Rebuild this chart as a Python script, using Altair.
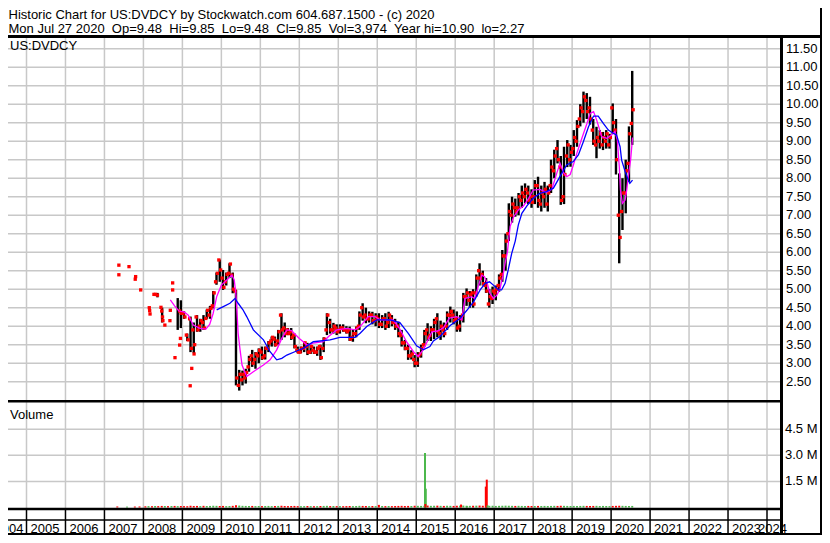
import altair as alt
import pandas as pd

# ---------------- texts ----------------
HEADER_LINE_1 = "Historic Chart for US:DVDCY by Stockwatch.com 604.687.1500 - (c) 2020"
HEADER_LINE_2 = ("Mon Jul 27 2020 \u00a0Op=9.48 \u00a0Hi=9.85 \u00a0Lo=9.48 \u00a0Cl=9.85"
                 " \u00a0Vol=3,974 \u00a0Year hi=10.90 \u00a0lo=2.27")
SYMBOL_LABEL = "US:DVDCY"
VOLUME_LABEL = "Volume"

YEARS = list(range(2004, 2025))
PRICE_TICKS = [2.5, 3.0, 3.5, 4.0, 4.5, 5.0, 5.5, 6.0, 6.5, 7.0, 7.5, 8.0, 8.5, 9.0,
               9.5, 10.0, 10.5, 11.0, 11.5]
VOLUME_TICKS = [1.5, 3.0, 4.5]  # millions

# ---------------- monthly price ranges, Jan 2009 .. Jul 2020 ----------------
MONTHLY_START_YEAR = 2009
LOW = [
    4.20, 3.60, 3.30, 3.27, 3.85, 3.85, 3.90, 4.20, 4.20, 4.48, 5.12, 5.20,
    4.98, 5.10, 5.30, 4.89, 2.40, 2.26, 2.40, 2.45, 2.77, 2.90, 2.85, 3.00,
    3.09, 3.10, 3.30, 3.45, 3.45, 3.50, 3.63, 3.70, 3.76, 3.63, 3.40, 3.27,
    3.27, 3.30, 3.22, 3.25, 3.25, 3.20, 3.09, 3.30, 3.76, 3.80, 3.80, 3.76,
    3.80, 3.85, 3.80, 3.60, 3.58, 3.70, 3.90, 4.15, 4.08, 4.10, 4.05, 4.00,
    3.95, 3.95, 3.90, 3.95, 4.00, 3.90, 3.70, 3.45, 3.35, 3.09, 3.10, 2.89,
    2.90, 3.15, 3.45, 3.60, 3.60, 3.65, 3.70, 3.63, 3.70, 3.90, 4.10, 4.05,
    3.85, 3.85, 4.10, 4.55, 4.50, 4.50, 4.80, 5.10, 5.10, 4.90, 4.50, 4.60,
    4.70, 4.93, 5.20, 5.50, 6.30, 6.80, 6.96, 7.00, 7.20, 7.32, 7.30, 7.20,
    7.30, 7.20, 7.10, 7.20, 7.10, 7.60, 8.00, 8.40, 7.28, 7.30, 8.30, 8.31,
    8.60, 8.85, 9.40, 9.50, 9.60, 9.45, 8.90, 8.54, 8.80, 8.76, 8.80, 8.80,
    9.20, 8.10, 5.70, 6.60, 7.05, 7.90, 8.90,
]
HIGH = [
    4.40, 3.80, 4.26, 4.10, 4.30, 4.20, 4.30, 4.45, 4.55, 4.95, 5.45, 5.80,
    5.52, 5.45, 5.70, 5.45, 4.98, 2.82, 2.80, 2.85, 3.20, 3.36, 3.30, 3.40,
    3.45, 3.45, 3.60, 3.72, 3.72, 3.90, 4.35, 4.10, 3.95, 3.95, 3.80, 3.45,
    3.45, 3.58, 3.55, 3.50, 3.45, 3.45, 3.50, 3.70, 4.35, 4.20, 4.09, 4.05,
    4.05, 4.05, 4.00, 3.99, 3.90, 3.99, 4.40, 4.62, 4.50, 4.40, 4.39, 4.35,
    4.35, 4.30, 4.35, 4.39, 4.30, 4.20, 4.12, 3.90, 3.63, 3.50, 3.35, 3.22,
    3.30, 3.50, 3.90, 4.08, 4.00, 4.20, 4.35, 4.15, 4.10, 4.40, 4.53, 4.45,
    4.40, 4.30, 4.90, 5.02, 4.95, 5.00, 5.40, 5.70, 5.50, 5.30, 5.00, 5.07,
    5.10, 5.40, 6.06, 6.50, 7.32, 7.50, 7.45, 7.60, 7.80, 7.86, 7.80, 7.70,
    7.95, 8.04, 7.80, 7.90, 7.80, 8.50, 8.77, 9.03, 8.60, 8.85, 9.03, 8.90,
    9.30, 9.57, 10.00, 10.34, 10.30, 10.20, 9.60, 9.39, 9.30, 9.25, 9.30, 9.20,
    10.02, 9.60, 8.13, 8.00, 8.50, 9.40, 10.90,
]
OPEN = [
    4.35, 3.76, 4.20, 3.90, 4.25, 4.00, 4.10, 4.21, 4.30, 4.55, 5.20, 5.79,
    5.30, 5.20, 5.43, 5.38, 4.95, 2.40, 2.55, 2.60, 2.90, 3.20, 3.10, 3.20,
    3.30, 3.20, 3.40, 3.60, 3.65, 3.60, 4.30, 3.95, 3.90, 3.85, 3.76, 3.35,
    3.30, 3.40, 3.45, 3.30, 3.35, 3.30, 3.45, 3.40, 3.90, 4.10, 3.90, 3.95,
    3.90, 3.95, 3.90, 3.90, 3.70, 3.80, 4.00, 4.50, 4.30, 4.20, 4.30, 4.15,
    4.20, 4.05, 4.20, 4.10, 4.20, 4.10, 4.00, 3.75, 3.55, 3.40, 3.20, 3.10,
    3.00, 3.25, 3.50, 3.90, 3.75, 3.90, 4.20, 3.80, 3.90, 4.00, 4.30, 4.30,
    4.20, 4.00, 4.30, 4.80, 4.70, 4.90, 4.90, 5.50, 5.40, 5.10, 4.60, 4.75,
    4.90, 5.10, 5.40, 5.90, 6.50, 7.00, 7.20, 7.20, 7.40, 7.50, 7.60, 7.50,
    7.50, 7.80, 7.30, 7.50, 7.30, 7.80, 8.20, 8.80, 8.30, 7.50, 8.60, 8.50,
    8.80, 9.00, 9.60, 9.80, 10.10, 9.90, 9.30, 8.90, 9.00, 8.90, 9.00, 8.90,
    9.90, 9.30, 7.00, 7.10, 7.60, 8.40, 9.48,
]
CLOSE = [
    4.25, 3.63, 3.40, 3.50, 3.90, 4.15, 3.95, 4.43, 4.48, 4.90, 5.43, 5.52,
    5.05, 5.40, 5.68, 5.00, 2.60, 2.70, 2.70, 2.75, 3.10, 3.00, 3.25, 3.35,
    3.15, 3.40, 3.55, 3.70, 3.50, 3.85, 3.90, 3.80, 3.80, 3.70, 3.45, 3.30,
    3.40, 3.55, 3.30, 3.45, 3.30, 3.40, 3.15, 3.65, 4.30, 3.90, 4.00, 3.85,
    3.95, 3.90, 3.85, 3.65, 3.80, 3.95, 4.30, 4.25, 4.20, 4.30, 4.15, 4.25,
    4.05, 4.20, 4.00, 4.30, 4.10, 4.00, 3.80, 3.55, 3.40, 3.20, 3.25, 3.00,
    3.20, 3.40, 3.80, 3.70, 3.90, 4.10, 3.85, 4.00, 3.80, 4.30, 4.40, 4.15,
    3.95, 4.20, 4.80, 4.90, 4.85, 4.60, 5.30, 5.30, 5.15, 4.95, 4.80, 4.95,
    5.00, 5.30, 5.90, 6.30, 7.10, 7.30, 7.10, 7.50, 7.60, 7.70, 7.40, 7.35,
    7.80, 7.40, 7.60, 7.70, 7.60, 8.30, 8.60, 8.50, 7.40, 8.10, 8.90, 8.70,
    9.10, 9.40, 9.90, 10.20, 9.80, 9.60, 9.00, 9.10, 9.20, 9.10, 9.20, 9.10,
    9.50, 8.50, 6.40, 7.60, 8.20, 9.20, 9.85,
]
VOLUME_K = [
    80, 75, 100, 85, 90, 80, 95, 85, 90, 100, 95, 85,
    90, 80, 85, 95, 130, 110, 95, 90, 85, 90, 80, 85,
    80, 85, 90, 80, 85, 90, 100, 85, 80, 85, 90, 80,
    75, 80, 85, 80, 75, 80, 85, 90, 95, 80, 85, 80,
    80, 75, 80, 85, 80, 85, 95, 90, 85, 80, 85, 80,
    150, 85, 80, 85, 80, 85, 90, 95, 85, 90, 85, 100,
    95, 90, 100, 110, 95, 100, 105, 95, 90, 100, 95, 90,
    100, 105, 110, 100, 95, 100, 105, 110, 100, 105, 95, 100,
    90, 95, 100, 105, 100, 95, 90, 95, 90, 85, 90, 85,
    85, 90, 85, 90, 85, 90, 95, 90, 100, 95, 90, 85,
    90, 85, 90, 95, 90, 85, 90, 95, 85, 90, 85, 80,
    90, 95, 100, 95, 90, 85, 90,
]

# ---------------- sparse early trading (2007-2009) ----------------
EARLY_TRADE_T = [2007.37, 2007.63, 2007.37, 2007.80, 2007.79, 2007.93, 2008.15, 2008.16,
                 2008.17, 2008.27, 2008.31, 2008.36, 2008.45, 2008.47, 2008.49, 2008.50,
                 2008.55, 2008.69, 2008.68, 2008.75, 2008.75, 2008.81, 2008.93, 2008.97,
                 2008.95, 2008.93, 2009.20, 2009.24, 2009.30]
EARLY_TRADE_P = [5.65, 5.61, 5.39, 5.34, 5.27, 4.98, 4.50, 4.42,
                 4.33, 4.86, 4.86, 4.84, 4.51, 4.41, 4.25, 4.15,
                 4.03, 4.43, 4.15, 5.17, 4.98, 3.15, 4.41, 4.35,
                 3.67, 3.49, 2.39, 2.86, 3.25]
EARLY_BAR_T = [2008.36, 2008.48, 2008.88, 2008.96]
EARLY_BAR_LOW = [4.78, 4.10, 3.90, 3.95]
EARLY_BAR_HIGH = [4.90, 4.50, 4.76, 4.70]
EARLY_VOL_T = [2007.33, 2007.58, 2007.78, 2007.90, 2008.05, 2008.13, 2008.22, 2008.30,
               2008.38, 2008.47, 2008.55, 2008.63, 2008.72, 2008.80, 2008.88, 2008.96]
EARLY_VOL_K = [60, 50, 55, 60, 70, 80, 75, 85, 80, 90, 85, 80, 85, 90, 80, 85]
EARLY_VOL_DIR = ["down", "up", "down", "down", "down", "up", "down", "up",
                 "down", "down", "up", "down", "up", "down", "up", "down"]

# ---------------- high-volume days ----------------
SPIKE_T = [2015.225, 2015.245, 2015.235, 2016.15, 2016.30, 2016.785, 2016.81, 2016.83]
SPIKE_M = [3.13, 1.08, 0.20, 0.17, 0.08, 1.20, 1.60, 0.12]
SPIKE_DIR = ["up", "up", "down", "down", "up", "down", "down", "up"]

# ---------------- moving averages ----------------
MA_SHORT_T = [2008.69, 2008.80, 2008.91, 2009.05, 2009.15, 2009.28, 2009.45, 2009.60, 2009.70,
              2009.79, 2009.88, 2010.00, 2010.18, 2010.27, 2010.33, 2010.37, 2010.40, 2010.43,
              2010.48, 2010.53, 2010.65, 2010.82, 2011.08, 2011.25, 2011.42, 2011.55, 2011.68,
              2011.80, 2012.00, 2012.20, 2012.36, 2012.62, 2012.75, 2012.96, 2013.22, 2013.43,
              2013.56, 2013.77, 2013.94, 2014.07, 2014.41, 2014.58, 2014.75, 2014.93, 2015.05,
              2015.20, 2015.40, 2015.55, 2015.70, 2015.85, 2016.04, 2016.17, 2016.25, 2016.42,
              2016.50, 2016.59, 2016.68, 2016.75, 2016.82, 2016.89, 2016.98, 2017.07, 2017.15,
              2017.22, 2017.28, 2017.34, 2017.41, 2017.50, 2017.62, 2017.75, 2017.88, 2018.00,
              2018.17, 2018.34, 2018.48, 2018.61, 2018.69, 2018.78, 2018.86, 2018.95, 2019.03,
              2019.12, 2019.25, 2019.38, 2019.46, 2019.55, 2019.63, 2019.76, 2019.89, 2020.01,
              2020.10, 2020.16, 2020.21, 2020.24, 2020.29, 2020.36, 2020.40, 2020.44, 2020.50,
              2020.55]
MA_SHORT_V = [4.71, 4.55, 4.41, 4.38, 4.30, 4.03, 3.94, 3.92, 4.05,
              4.35, 4.80, 5.11, 5.29, 5.38, 5.25, 4.90, 4.40, 3.81,
              3.36, 2.95, 2.64, 2.77, 2.95, 3.09, 3.36, 3.67, 3.90,
              3.88, 3.67, 3.49, 3.54, 3.58, 3.72, 3.90, 3.94, 3.90,
              3.99, 4.26, 4.26, 4.17, 4.17, 3.92, 3.58, 3.31, 3.18,
              3.40, 3.85, 3.87, 3.96, 4.22, 4.26, 4.17, 4.75, 4.80,
              4.75, 5.07, 5.38, 5.34, 5.16, 4.89, 4.75, 4.84, 5.02,
              5.34, 5.70, 6.01, 6.70, 6.96, 7.14, 7.25, 7.45, 7.68,
              7.70, 7.62, 7.70, 8.15, 8.40, 8.15, 8.04, 8.10, 8.35,
              8.67, 9.08, 9.48, 9.75, 9.80, 9.57, 9.12, 9.08, 9.17,
              9.26, 9.03, 8.31, 7.68, 7.32, 7.41, 7.68, 8.04, 8.49,
              9.10]
MA_LONG_T = [2009.88, 2010.05, 2010.22, 2010.35, 2010.43, 2010.55, 2010.65, 2010.82, 2011.08,
             2011.25, 2011.42, 2011.55, 2011.68, 2011.93, 2012.10, 2012.36, 2012.79, 2013.04,
             2013.43, 2013.56, 2013.73, 2013.99, 2014.33, 2014.58, 2014.80, 2015.01, 2015.18,
             2015.35, 2015.44, 2015.61, 2015.75, 2015.87, 2016.12, 2016.30, 2016.47, 2016.64,
             2016.77, 2016.88, 2016.98, 2017.11, 2017.19, 2017.28, 2017.36, 2017.45, 2017.54,
             2017.62, 2017.71, 2017.84, 2018.00, 2018.17, 2018.34, 2018.52, 2018.69, 2018.86,
             2019.03, 2019.16, 2019.29, 2019.42, 2019.55, 2019.67, 2019.80, 2019.93, 2020.06,
             2020.14, 2020.23, 2020.27, 2020.36, 2020.44, 2020.48, 2020.55]
MA_LONG_V = [4.44, 4.53, 4.62, 4.75, 4.62, 4.45, 4.26, 3.90, 3.63,
             3.31, 3.09, 3.13, 3.22, 3.33, 3.40, 3.58, 3.63, 3.70,
             3.70, 3.81, 3.99, 4.17, 4.17, 4.10, 3.80, 3.47, 3.36,
             3.45, 3.60, 3.72, 3.88, 4.02, 4.21, 4.43, 4.66, 4.98,
             5.16, 5.20, 5.11, 4.98, 4.98, 5.16, 5.52, 5.97, 6.30,
             6.74, 7.05, 7.25, 7.46, 7.59, 7.64, 7.73, 8.05, 8.36,
             8.45, 8.63, 8.99, 9.39, 9.68, 9.68, 9.48, 9.30, 9.21,
             9.17, 8.85, 8.49, 8.18, 7.95, 7.86, 7.95]

# ---------------- tables ----------------
month_start = [MONTHLY_START_YEAR + i / 12 for i in range(len(LOW))]
bars = pd.DataFrame({
    "t": [m + 0.5 / 12 for m in month_start] + EARLY_BAR_T,
    "lo": LOW + EARLY_BAR_LOW,
    "hi": HIGH + EARLY_BAR_HIGH,
})
trades = pd.DataFrame({
    "t": [m + 0.22 / 12 for m in month_start] + [m + 0.78 / 12 for m in month_start] + EARLY_TRADE_T,
    "p": OPEN + CLOSE + EARLY_TRADE_P,
})
month_dir = ["up" if c >= o else "down" for o, c in zip(OPEN, CLOSE)]
volume = pd.DataFrame({
    "t": [m + 0.5 / 12 for m in month_start] + EARLY_VOL_T + SPIKE_T,
    "v": [k / 1000 for k in VOLUME_K] + [k / 1000 for k in EARLY_VOL_K] + SPIKE_M,
    "dir": month_dir + EARLY_VOL_DIR + SPIKE_DIR,
})
volume["zero"] = 0.0
ma_short = pd.DataFrame({"t": MA_SHORT_T, "v": MA_SHORT_V})
ma_long = pd.DataFrame({"t": MA_LONG_T, "v": MA_LONG_V})
years = pd.DataFrame({"yr": YEARS, "lab": [str(y) for y in YEARS]})
price_ticks = pd.DataFrame({"v": PRICE_TICKS, "lab": [f"{v:.2f}" for v in PRICE_TICKS]})
vol_ticks = pd.DataFrame({"v": VOLUME_TICKS, "lab": [f"{v:.1f} M" for v in VOLUME_TICKS]})
one = pd.DataFrame({"k": [0]})

# ---------------- scales & style ----------------
W, H = 814, 527
FONT = "Liberation Sans"
GRID = "#c8c8c8"
DIV_X = 773.5            # price/label divider
PLOT_RIGHT = 772

xs = alt.Scale(domain=[2005, 2024], range=[18.5, 759.0], nice=False, zero=False)
ps = alt.Scale(domain=[2.0, 11.7], range=[392.2, 33.3], nice=False, zero=False)
vs = alt.Scale(domain=[0, 6.0], range=[499.5, 395.0], nice=False, zero=False)


def hline(y, x1, x2, w, color="black"):
    return alt.Chart(one).mark_rule(color=color, strokeWidth=w).encode(
        x=alt.value(x1), x2=alt.value(x2), y=alt.value(y))


def vline(x, y1, y2, w, color="black"):
    return alt.Chart(one).mark_rule(color=color, strokeWidth=w).encode(
        x=alt.value(x), y=alt.value(y1), y2=alt.value(y2))


def text(t, x, y, size=13, **kw):
    return alt.Chart(one).mark_text(text=t, align="left", baseline="alphabetic",
                                    font=FONT, fontSize=size, color="black", **kw).encode(
        x=alt.value(x), y=alt.value(y))


X = alt.X("t:Q", scale=xs, axis=None)

price_grid = alt.Chart(price_ticks).mark_rule(color=GRID, strokeWidth=1.5).encode(
    y=alt.Y("v:Q", scale=ps, axis=None), x=alt.value(0), x2=alt.value(PLOT_RIGHT))
vol_grid = alt.Chart(vol_ticks).mark_rule(color=GRID, strokeWidth=1.5).encode(
    y=alt.Y("v:Q", scale=vs, axis=None), x=alt.value(0), x2=alt.value(PLOT_RIGHT))
year_grid = alt.Chart(years).transform_filter("datum.yr >= 2005").mark_rule(
    color=GRID, strokeWidth=1.5).encode(
    x=alt.X("yr:Q", scale=xs, axis=None), y=alt.value(30), y2=alt.value(500))
year_ticks = alt.Chart(years).transform_filter("datum.yr >= 2005").mark_rule(
    color="black", strokeWidth=1.5).encode(
    x=alt.X("yr:Q", scale=xs, axis=None), y=alt.value(502), y2=alt.value(526))

vol_bars = alt.Chart(volume).mark_rule(strokeWidth=2).encode(
    x=X,
    y=alt.Y("zero:Q", scale=vs, axis=None),
    y2="v:Q",
    color=alt.Color("dir:N", scale=alt.Scale(domain=["up", "down"], range=["#4cb84c", "#ff0000"]),
                    legend=None),
)
price_bars = alt.Chart(bars).mark_rule(color="black", strokeWidth=2.4).encode(
    x=X, y=alt.Y("lo:Q", scale=ps, axis=None), y2="hi:Q")
price_pts = alt.Chart(trades).mark_square(color="#ff0000", size=11, opacity=1).encode(
    x=X, y=alt.Y("p:Q", scale=ps, axis=None))
ma_s = alt.Chart(ma_short).mark_line(color="#ff00ff", strokeWidth=1.3).encode(
    x=X, y=alt.Y("v:Q", scale=ps, axis=None))
ma_l = alt.Chart(ma_long).mark_line(color="#0000ff", strokeWidth=1.3).encode(
    x=X, y=alt.Y("v:Q", scale=ps, axis=None))

price_labels = alt.Chart(price_ticks).mark_text(
    align="left", baseline="middle", font=FONT, fontSize=13, color="black").encode(
    x=alt.value(778), y=alt.Y("v:Q", scale=ps, axis=None), text="lab:N")
vol_labels = alt.Chart(vol_ticks).mark_text(
    align="left", baseline="middle", font=FONT, fontSize=13, color="black").encode(
    x=alt.value(777), y=alt.Y("v:Q", scale=vs, axis=None), text="lab:N")
year_labels = alt.Chart(years).transform_filter(
    "datum.yr >= 2005 && datum.yr <= 2023").mark_text(
    align="left", baseline="alphabetic", font=FONT, fontSize=13, color="black", dx=4).encode(
    x=alt.X("yr:Q", scale=xs, axis=None), y=alt.value(524.5), text="lab:N")
first_label = alt.Chart(years).transform_filter("datum.yr == 2004").transform_calculate(
    nxt="datum.yr + 1").mark_text(
    align="right", baseline="alphabetic", font=FONT, fontSize=13, color="black", dx=-3).encode(
    x=alt.X("nxt:Q", scale=xs, axis=None), y=alt.value(524.5), text="lab:N")
last_label = alt.Chart(years).transform_filter("datum.yr == 2024").mark_text(
    align="left", baseline="alphabetic", font=FONT, fontSize=13, color="black", dx=-9).encode(
    x=alt.X("yr:Q", scale=xs, axis=None), y=alt.value(524.5), text="lab:N")

chart = alt.layer(
    price_grid, vol_grid, year_grid, year_ticks,
    vol_bars, price_bars, price_pts, ma_s, ma_l,
    hline(28.5, 0, W, 3),
    hline(393.3, 0, DIV_X, 2.5),
    hline(501, 0, DIV_X, 2.5),
    hline(512, 0, DIV_X, 1.5),
    hline(526, 0, W, 2),
    vline(DIV_X, 27, H, 3),
    vline(813, 0, H, 2),
    text(HEADER_LINE_1, 0.5, 11),
    text(HEADER_LINE_2, 0.5, 25),
    text(SYMBOL_LABEL, 2, 41.5),
    text(VOLUME_LABEL, 2, 411),
    price_labels, vol_labels, year_labels, first_label, last_label,
).resolve_scale(
    x="independent", y="independent", color="independent"
).properties(
    width=W, height=H, padding=0,
    autosize=alt.AutoSizeParams(type="none"),
    background="white",
).configure_view(stroke=None)

chart.save("out.html", embed_options={"renderer": "svg", "actions": False})
